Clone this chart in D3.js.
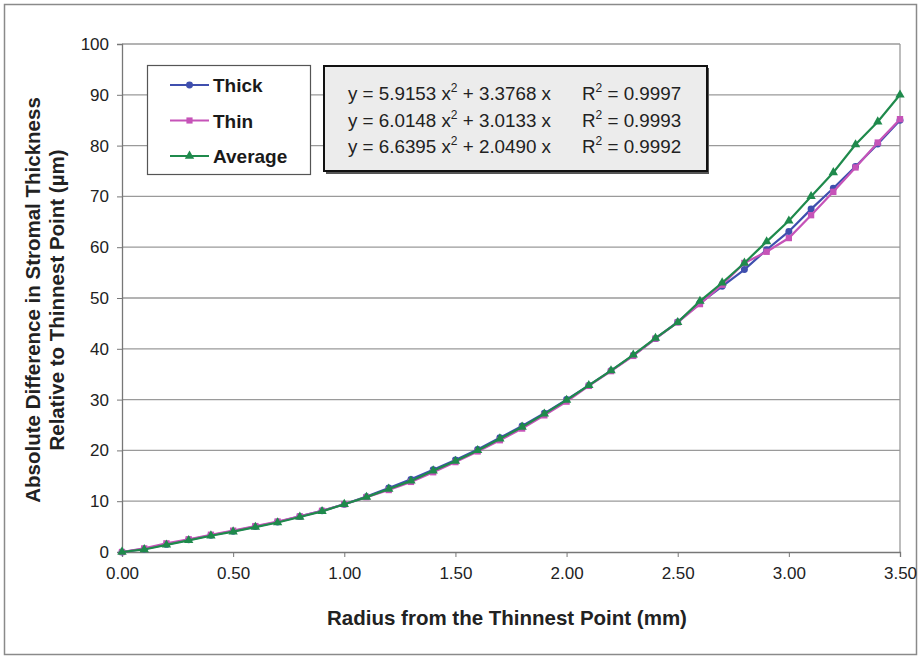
<!DOCTYPE html>
<html>
<head>
<meta charset="utf-8">
<script src="https://cdn.jsdelivr.net/npm/d3@7"></script>
<style>
body { margin: 0; background: #fff; }
svg text { font-family: "Liberation Sans", Arial, sans-serif; }
</style>
</head>
<body>
<svg id="chart" width="921" height="658"></svg>
<script>
// radius (mm)
var radius = [0.0, 0.1, 0.2, 0.3, 0.4, 0.5, 0.6, 0.7, 0.8, 0.9,
  1.0, 1.1, 1.2, 1.3, 1.4, 1.5, 1.6, 1.7, 1.8, 1.9,
  2.0, 2.1, 2.2, 2.3, 2.4, 2.5, 2.6, 2.7, 2.8, 2.9,
  3.0, 3.1, 3.2, 3.3, 3.4, 3.5]

var thick = [0, 0.6, 1.5, 2.4, 3.3, 4.1, 5.0, 5.9, 7.0, 8.1,
  9.4, 10.9, 12.6, 14.3, 16.2, 18.1, 20.2, 22.5, 24.8, 27.3,
  30.0, 32.8, 35.7, 38.7, 42.0, 45.3, 49.0, 52.3, 55.6, 59.5,
  63.1, 67.5, 71.6, 75.9, 80.3, 85.0]

var thin = [0, 0.7, 1.7, 2.5, 3.4, 4.2, 5.1, 6.0, 7.0, 8.1,
  9.4, 10.8, 12.2, 13.8, 15.7, 17.7, 19.8, 22.0, 24.3, 26.9,
  29.6, 32.7, 35.6, 38.6, 42.0, 45.2, 48.8, 52.6, 56.9, 59.1,
  61.8, 66.3, 70.9, 75.7, 80.6, 85.2]

var average = [0, 0.5, 1.4, 2.3, 3.2, 4.0, 4.9, 5.8, 6.9, 8.0,
  9.4, 10.8, 12.4, 14.0, 16.0, 17.9, 20.0, 22.3, 24.6, 27.2,
  29.9, 32.8, 35.7, 38.8, 42.1, 45.2, 49.4, 53.0, 56.9, 61.1,
  65.2, 70.0, 74.7, 80.2, 84.7, 90.0]

var seriesNames = ['Thick', 'Thin', 'Average']
var seriesColors = ['#3f4fae', '#c653b8', '#1f8a4c']
var seriesShapes = [d3.symbolCircle, d3.symbolSquare, d3.symbolTriangle]
var seriesValues = [thick, thin, average]

var equations = [
  ['5.9153', '3.3768', '0.9997'],
  ['6.0148', '3.0133', '0.9993'],
  ['6.6395', '2.0490', '0.9992']
]

var xTicks = [0, 0.5, 1, 1.5, 2, 2.5, 3, 3.5]
var yTicks = d3.range(0, 101, 10)

var svg = d3.select('#chart')

// outer frame
svg.append('rect')
  .attr('x', 4.5).attr('y', 4.5)
  .attr('width', 912).attr('height', 650)
  .attr('fill', 'none').attr('stroke', '#8a8a8a').attr('stroke-width', 1.5)

var plotL = 122, plotR = 900, plotT = 44, plotB = 552

var x = d3.scaleLinear().domain([0, 3.5]).range([plotL, plotR])
var y = d3.scaleLinear().domain([0, 100]).range([plotB, plotT])

// gridlines
svg.append('g')
  .selectAll('line')
  .data(yTicks.filter(function (d) { return d > 0 }))
  .enter().append('line')
  .attr('x1', plotL).attr('x2', plotR)
  .attr('y1', function (d) { return y(d) }).attr('y2', function (d) { return y(d) })
  .attr('stroke', '#9a9a9a').attr('stroke-width', 1.3)

// right border of plot
svg.append('line')
  .attr('x1', plotR).attr('x2', plotR).attr('y1', plotT).attr('y2', plotB)
  .attr('stroke', '#9a9a9a').attr('stroke-width', 1.3)

var yAxis = svg.append('g')
  .attr('transform', 'translate(' + plotL + ',0)')
  .call(d3.axisLeft(y).tickValues(yTicks).tickSize(5).tickPadding(8))
yAxis.select('.domain').attr('stroke', '#777').attr('stroke-width', 1.3)
yAxis.selectAll('.tick line').attr('stroke', '#777')
yAxis.selectAll('text').attr('font-size', 17).attr('fill', '#222')

var xAxis = svg.append('g')
  .attr('transform', 'translate(0,' + plotB + ')')
  .call(d3.axisBottom(x).tickValues(xTicks).tickFormat(d3.format('.2f')).tickSize(5).tickPadding(10))
xAxis.select('.domain').attr('stroke', '#777').attr('stroke-width', 1.3)
xAxis.selectAll('.tick line').attr('stroke', '#777')
xAxis.selectAll('text').attr('font-size', 17).attr('fill', '#222')

// axis titles
svg.append('text')
  .attr('x', 507).attr('y', 625)
  .attr('text-anchor', 'middle')
  .attr('font-size', 20.5).attr('font-weight', 'bold').attr('fill', '#222')
  .text('Radius from the Thinnest Point (mm)')

var yTitle = svg.append('text')
  .attr('transform', 'translate(40,300) rotate(-90)')
  .attr('text-anchor', 'middle')
  .attr('font-size', 20.5).attr('font-weight', 'bold').attr('fill', '#222')
yTitle.append('tspan').attr('x', 0).attr('dy', 0).text('Absolute Difference in Stromal Thickness')
yTitle.append('tspan').attr('x', 0).attr('dy', 24).text('Relative to Thinnest Point (µm)')

// series
var line = d3.line()
  .x(function (d) { return x(d[0]) })
  .y(function (d) { return y(d[1]) })

seriesValues.forEach(function (vals, i) {
  var pts = radius.map(function (r, j) { return [r, vals[j]] })
  var g = svg.append('g')
  g.append('path')
    .datum(pts)
    .attr('d', line)
    .attr('fill', 'none')
    .attr('stroke', seriesColors[i])
    .attr('stroke-width', 2.2)
  g.selectAll('path.m')
    .data(pts)
    .enter().append('path')
    .attr('class', 'm')
    .attr('transform', function (d) { return 'translate(' + x(d[0]) + ',' + y(d[1]) + ')' })
    .attr('d', d3.symbol().type(seriesShapes[i]).size(i === 1 ? 40 : 38))
    .attr('fill', seriesColors[i])
})

// legend
var legend = svg.append('g')
legend.append('rect')
  .attr('x', 147.5).attr('y', 65.5).attr('width', 163).attr('height', 109)
  .attr('fill', '#fff').attr('stroke', '#555').attr('stroke-width', 1.2)
seriesNames.forEach(function (name, i) {
  var ly = 85 + i * 35.5
  legend.append('line')
    .attr('x1', 170).attr('x2', 209).attr('y1', ly).attr('y2', ly)
    .attr('stroke', seriesColors[i]).attr('stroke-width', 2.2)
  legend.append('path')
    .attr('transform', 'translate(189.5,' + ly + ')')
    .attr('d', d3.symbol().type(seriesShapes[i]).size(38))
    .attr('fill', seriesColors[i])
  legend.append('text')
    .attr('x', 213).attr('y', ly + 7)
    .attr('font-size', 19).attr('font-weight', 'bold').attr('fill', '#1a1a1a')
    .text(name)
})

// equation box
var eq = svg.append('g')
eq.append('rect')
  .attr('x', 326).attr('y', 68).attr('width', 383).attr('height', 106)
  .attr('fill', '#555')
eq.append('rect')
  .attr('x', 324).attr('y', 66).attr('width', 383).attr('height', 105)
  .attr('fill', '#ececec').attr('stroke', '#111').attr('stroke-width', 2)
equations.forEach(function (e, i) {
  var ty = 100 + i * 26.5
  var t = eq.append('text')
    .attr('x', 348).attr('y', ty)
    .attr('font-size', 18.8).attr('fill', '#222')
  t.append('tspan').text('y = ' + e[0] + ' x')
  t.append('tspan').attr('dy', -8).attr('font-size', 12).text('2')
  t.append('tspan').attr('dy', 8).text(' + ' + e[1] + ' x')
  var r = eq.append('text')
    .attr('x', 582).attr('y', ty)
    .attr('font-size', 18.8).attr('fill', '#222')
  r.append('tspan').text('R')
  r.append('tspan').attr('dy', -8).attr('font-size', 12).text('2')
  r.append('tspan').attr('dy', 8).text(' = ' + e[2])
})
</script>
</body>
</html>
